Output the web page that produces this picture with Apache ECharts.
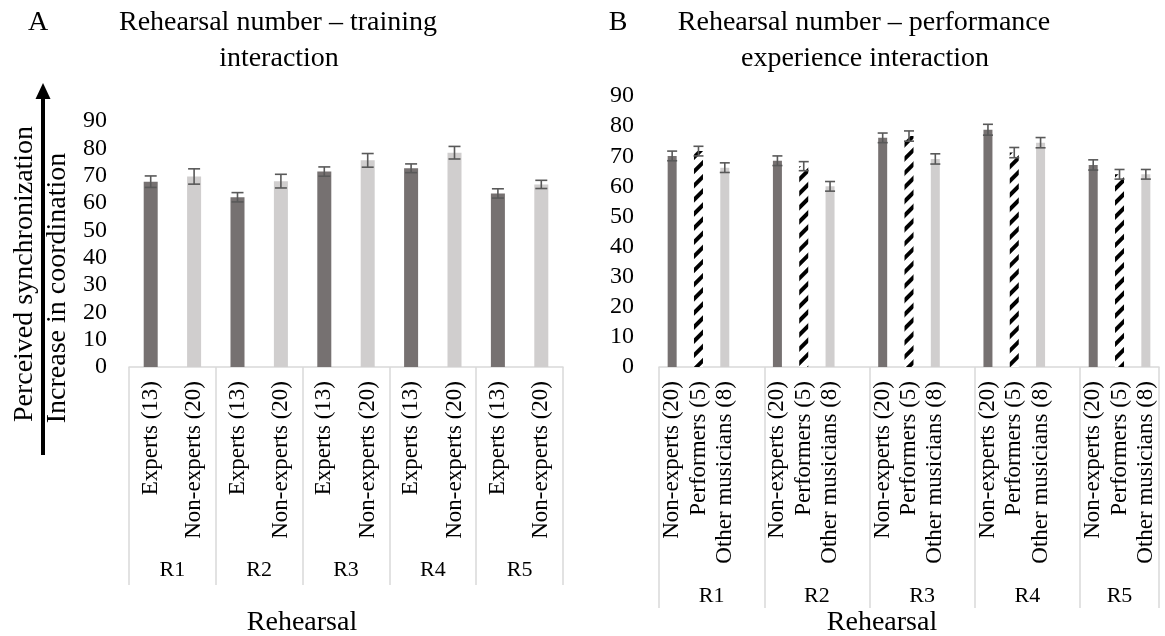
<!DOCTYPE html>
<html><head><meta charset="utf-8">
<script src="https://cdn.jsdelivr.net/npm/echarts@6/dist/echarts.min.js"></script>
<style>html,body{margin:0;padding:0;background:#fff}#c{width:1165px;height:636px}</style>
</head><body><div id="c"></div>
<script>
// ---------- data ----------
const rehearsals = ['R1', 'R2', 'R3', 'R4', 'R5'];
const groupsA = ['Experts (13)', 'Non-experts (20)'];
const expertsMean = [67.8, 62.1, 71.5, 72.7, 63.5];
const expertsErr = [2.1, 1.7, 1.7, 1.6, 1.7];
const nonExpertsMean = [69.7, 68.0, 75.6, 78.4, 66.8];
const nonExpertsErr = [2.8, 2.5, 2.5, 2.3, 1.5];

const groupsB = ['Non-experts (20)', 'Performers (5)', 'Other musicians (8)'];
const nonExpertsMeanB = [70.1, 68.5, 76.1, 78.8, 67.1];
const nonExpertsErrB = [1.6, 1.6, 1.6, 1.8, 1.7];
const performersMean = [71.7, 66.7, 76.7, 71.2, 64.0];
const performersErr = [1.6, 1.5, 1.7, 1.7, 1.6];
const otherMusiciansMean = [66.2, 60.0, 69.1, 74.5, 64.0];
const otherMusiciansErr = [1.6, 1.6, 1.7, 1.7, 1.6];

const yMin = 0, yMax = 90, yStep = 10;

// ---------- styling ----------
const FONT = 'Liberation Serif, Times New Roman, serif';
const DARK = '#767171', LIGHT = '#D0CECE', ERR = '#595959', AXIS = '#D9D9D9';

// ---------- build panel A ----------
const catsA = [], barA = [], errA = [];
rehearsals.forEach((r, i) => {
  const vals = [[expertsMean[i], expertsErr[i], DARK], [nonExpertsMean[i], nonExpertsErr[i], LIGHT]];
  vals.forEach((v, g) => {
    const idx = catsA.length;
    catsA.push(groupsA[g]);
    barA.push({ value: v[0], itemStyle: { color: v[2] } });
    errA.push([idx, v[0] - v[1], v[0] + v[1]]);
  });
});

// ---------- build panel B ----------
const catsB = [], barB = [], errB = [], groupStartB = [], groupCenterB = [];
const decalP = { symbol: 'rect', symbolSize: 1, color: '#000', dashArrayX: [1, 0], dashArrayY: [4, 6], rotation: -Math.PI / 4 };
rehearsals.forEach((r, i) => {
  const start = catsB.length;
  groupStartB.push(start);
  const vals = [
    [nonExpertsMeanB[i], nonExpertsErrB[i], { color: DARK }],
    [performersMean[i], performersErr[i], { color: '#fff', decal: decalP }],
    [otherMusiciansMean[i], otherMusiciansErr[i], { color: LIGHT }]
  ];
  vals.forEach((v, g) => {
    const idx = catsB.length;
    catsB.push(groupsB[g]);
    barB.push({ value: v[0], itemStyle: v[2] });
    errB.push([idx, v[0] - v[1], v[0] + v[1]]);
  });
  if (i < rehearsals.length - 1) { catsB.push(''); barB.push('-'); }
  const end = (i < rehearsals.length - 1) ? catsB.length : catsB.length;
  groupCenterB.push((start + end) / 2);
});
const nB = catsB.length;

function errRender(capW) {
  return function (params, api) {
    const x = api.value(0), lo = api.value(1), hi = api.value(2);
    const p1 = api.coord([x, hi]), p2 = api.coord([x, lo]);
    const st = { stroke: ERR, lineWidth: 1.6, fill: null };
    return { type: 'group', children: [
      { type: 'line', shape: { x1: p1[0], y1: p1[1], x2: p2[0], y2: p2[1] }, style: st },
      { type: 'line', shape: { x1: p1[0] - capW / 2, y1: p1[1], x2: p1[0] + capW / 2, y2: p1[1] }, style: st },
      { type: 'line', shape: { x1: p2[0] - capW / 2, y1: p2[1], x2: p2[0] + capW / 2, y2: p2[1] }, style: st }
    ] };
  };
}

const yAxisCommon = {
  type: 'value', min: yMin, max: yMax, interval: yStep,
  axisLine: { show: false }, axisTick: { show: false }, splitLine: { show: false },
};

const chart = echarts.init(document.getElementById('c'), null, { renderer: 'canvas' });
chart.setOption({
  backgroundColor: '#fff',
  animation: false,
  textStyle: { fontFamily: FONT },
  grid: [
    { left: 129, top: 121, width: 434, height: 246 },
    { left: 659, top: 96, width: 500, height: 271 }
  ],
  xAxis: [
    { type: 'category', gridIndex: 0, data: catsA, position: 'bottom',
      axisLine: { show: true, lineStyle: { color: AXIS, width: 1.5 } },
      axisTick: { show: true, interval: (i) => i % 2 === 0, length: 218, lineStyle: { color: AXIS, width: 1.5 } },
      axisLabel: { interval: 0, rotate: 90, margin: 14, fontSize: 23, color: '#000', fontFamily: FONT } },
    { type: 'category', gridIndex: 0, data: rehearsals, position: 'bottom',
      axisLine: { show: false }, axisTick: { show: false },
      axisLabel: { interval: 0, margin: 192, fontSize: 22, color: '#000', fontFamily: FONT } },
    { type: 'category', gridIndex: 1, data: catsB, position: 'bottom',
      axisLine: { show: true, lineStyle: { color: AXIS, width: 1.5 } },
      axisTick: { show: true, interval: (i) => groupStartB.indexOf(i) >= 0, length: 241, lineStyle: { color: AXIS, width: 1.5 } },
      axisLabel: { interval: 0, rotate: 90, margin: 14, fontSize: 23, color: '#000', fontFamily: FONT } },
    { type: 'value', gridIndex: 1, min: 0, max: nB, interval: 0.5, position: 'bottom',
      axisLine: { show: false }, axisTick: { show: false }, splitLine: { show: false },
      axisLabel: { margin: 218, fontSize: 22, color: '#000', fontFamily: FONT, showMinLabel: true, showMaxLabel: true,
        formatter: (v) => { const k = groupCenterB.indexOf(v); return k >= 0 ? rehearsals[k] : ''; } } }
  ],
  yAxis: [
    Object.assign({ gridIndex: 0, axisLabel: { margin: 22, fontSize: 24, color: '#000', fontFamily: FONT } }, yAxisCommon),
    Object.assign({ gridIndex: 1, axisLabel: { margin: 25, fontSize: 24, color: '#000', fontFamily: FONT } }, yAxisCommon)
  ],
  series: [
    { type: 'bar', xAxisIndex: 0, yAxisIndex: 0, data: barA, barWidth: 14 },
    { type: 'custom', xAxisIndex: 0, yAxisIndex: 0, data: errA, renderItem: errRender(12), encode: { x: 0, y: [1, 2] }, z: 5 },
    { type: 'bar', xAxisIndex: 2, yAxisIndex: 1, data: barB, barWidth: 9 },
    { type: 'custom', xAxisIndex: 2, yAxisIndex: 1, data: errB, renderItem: errRender(10), encode: { x: 0, y: [1, 2] }, z: 5 }
  ],
  graphic: [
    { type: 'text', left: null, x: 38, y: 23, style: { text: 'A', font: '28px ' + FONT, fill: '#000', textAlign: 'center', textVerticalAlign: 'middle' } },
    { type: 'text', x: 278, y: 23, style: { text: 'Rehearsal number – training', font: '28px ' + FONT, fill: '#000', textAlign: 'center', textVerticalAlign: 'middle' } },
    { type: 'text', x: 279, y: 59, style: { text: 'interaction', font: '28px ' + FONT, fill: '#000', textAlign: 'center', textVerticalAlign: 'middle' } },
    { type: 'text', x: 618, y: 23, style: { text: 'B', font: '28px ' + FONT, fill: '#000', textAlign: 'center', textVerticalAlign: 'middle' } },
    { type: 'text', x: 864, y: 23, style: { text: 'Rehearsal number – performance', font: '28px ' + FONT, fill: '#000', textAlign: 'center', textVerticalAlign: 'middle' } },
    { type: 'text', x: 865, y: 59, style: { text: 'experience interaction', font: '28px ' + FONT, fill: '#000', textAlign: 'center', textVerticalAlign: 'middle' } },
    { type: 'text', x: 302, y: 623, style: { text: 'Rehearsal', font: '28px ' + FONT, fill: '#000', textAlign: 'center', textVerticalAlign: 'middle' } },
    { type: 'text', x: 882, y: 623, style: { text: 'Rehearsal', font: '28px ' + FONT, fill: '#000', textAlign: 'center', textVerticalAlign: 'middle' } },
    { type: 'text', x: 25, y: 274, rotation: Math.PI / 2, style: { text: 'Perceived synchronization', font: '28px ' + FONT, fill: '#000', textAlign: 'center', textVerticalAlign: 'middle' } },
    { type: 'text', x: 58, y: 288, rotation: Math.PI / 2, style: { text: 'Increase in coordination', font: '28px ' + FONT, fill: '#000', textAlign: 'center', textVerticalAlign: 'middle' } },
    { type: 'line', shape: { x1: 43, y1: 96, x2: 43, y2: 455 }, style: { stroke: '#000', lineWidth: 4 } },
    { type: 'polygon', shape: { points: [[43, 83], [35.5, 99], [50.5, 99]] }, style: { fill: '#000' } }
  ]
});
</script></body></html>
